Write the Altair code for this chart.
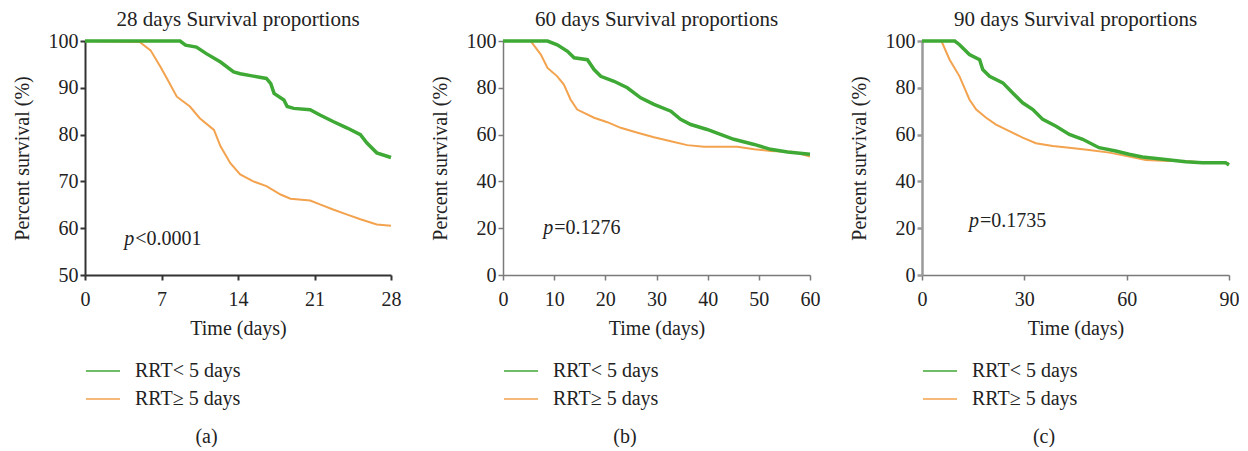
import altair as alt
import pandas as pd

GROUPS = ["RRT< 5 days", "RRT\u2265 5 days"]
GREEN = "#3fa935"
ORANGE = "#f3a24e"
FONT = "Liberation Serif"
FS = 20

# ---- Panel (a): 28 days ----
a_green_t = [0, 8.7, 9.2, 10.2, 11.1, 12.4, 13.6, 14.2, 15.4, 16.6, 17.0, 17.3, 18.2, 18.5, 19.1, 20.6, 21.5, 22.7, 24.0, 25.2, 25.8, 26.7, 28.0]
a_green_v = [100, 100, 99.1, 98.7, 97.3, 95.5, 93.4, 93.0, 92.5, 92.0, 90.9, 88.8, 87.4, 86.0, 85.6, 85.3, 84.2, 82.8, 81.4, 80.0, 78.2, 76.1, 75.1]
a_orange_t = [0, 5.0, 6.0, 6.9, 7.5, 8.4, 9.6, 10.5, 11.8, 12.4, 13.3, 14.2, 15.4, 16.6, 17.9, 18.8, 20.6, 21.5, 22.7, 24.0, 25.2, 26.7, 28.0]
a_orange_v = [100, 99.8, 98.0, 94.5, 92.0, 88.1, 86.0, 83.5, 81.0, 77.5, 73.9, 71.5, 70.0, 69.0, 67.2, 66.3, 65.9, 65.1, 64.0, 62.9, 61.9, 60.8, 60.5]

# ---- Panel (b): 60 days ----
b_green_t = [0, 8.7, 10.6, 12.6, 13.9, 16.5, 17.8, 19.1, 21.7, 24.3, 26.9, 29.5, 32.8, 34.7, 36.7, 39.9, 42.5, 45.1, 49.1, 52.3, 55.6, 60.0]
b_green_v = [100, 100, 98.4, 95.6, 92.8, 92.0, 87.8, 84.9, 82.8, 80.0, 75.7, 72.9, 70.0, 66.5, 64.3, 62.2, 60.1, 58.0, 55.8, 53.7, 52.6, 51.6]
b_orange_t = [0, 5.4, 7.4, 8.7, 10.6, 11.9, 13.2, 14.5, 17.8, 20.4, 23.0, 26.3, 29.5, 32.8, 36.0, 39.3, 45.8, 49.1, 52.3, 56.9, 60.0]
b_orange_v = [100, 100, 94.2, 88.5, 84.9, 81.4, 75.0, 70.7, 67.2, 65.3, 62.9, 60.8, 58.9, 57.2, 55.5, 54.8, 54.8, 53.7, 53.0, 52.6, 50.6]

# ---- Panel (c): 90 days ----
c_green_t = [0, 9.6, 11.0, 13.9, 16.9, 17.8, 19.8, 23.7, 26.6, 29.5, 32.5, 35.4, 39.3, 43.2, 47.1, 51.9, 56.8, 60.7, 64.6, 71.4, 77.3, 82.2, 89.0, 90.0]
c_green_v = [100, 100, 98.4, 94.2, 92.0, 87.8, 84.9, 82.1, 77.8, 73.6, 70.7, 66.5, 63.6, 60.1, 58.0, 54.4, 53.0, 51.6, 50.4, 49.4, 48.4, 48.0, 48.0, 47.0]
c_orange_t = [0, 5.7, 8.1, 11.0, 13.9, 15.9, 18.8, 21.7, 25.6, 29.5, 33.4, 38.3, 43.2, 49.0, 54.9, 59.7, 65.6, 72.4, 76.3, 82.0, 90.0]
c_orange_v = [100, 100, 92.0, 84.9, 75.0, 70.7, 67.2, 64.3, 61.5, 58.7, 56.3, 55.1, 54.4, 53.4, 52.3, 50.9, 49.1, 48.7, 48.7, 48.2, 47.8]

P_TEXT = ["<0.0001", "=0.1276", "=0.1735"]
P_POS = [(4.6, 57.7), (10.0, 20.1), (17.0, 23.1)]
TITLES = ["28 days Survival proportions", "60 days Survival proportions", "90 days Survival proportions"]
CAPTIONS = ["(a)", "(b)", "(c)"]
X_MAX = [28, 60, 90]
X_TICKS = [[0, 7, 14, 21, 28], [0, 10, 20, 30, 40, 50, 60], [0, 30, 60, 90]]
Y_MIN = [50, 0, 0]
Y_TICKS = [[50, 60, 70, 80, 90, 100], [0, 20, 40, 60, 80, 100], [0, 20, 40, 60, 80, 100]]
AXIS_COL = [("#333333", "#333333"), ("#7a7a7a", "#7a7a7a"), ("#7a7a7a", "#9a9a9a")]
AXIS_W = [(2, 2), (1.5, 1.5), (1.5, 2.5)]
WIDTHS = [306, 307, 307]

LBL = dict(labelFont=FONT, labelFontSize=FS, labelColor="#222222", titleFont=FONT,
           titleFontSize=FS, titleFontWeight="normal", titleColor="#222222",
           labelFlush=False)


def make_df(gt, gv, ot, ov):
    rows = [{"t": t, "v": v, "group": GROUPS[0]} for t, v in zip(gt, gv)]
    rows += [{"t": t, "v": v, "group": GROUPS[1]} for t, v in zip(ot, ov)]
    return pd.DataFrame(rows)


def panel(i, df):
    xcol, ycol = AXIS_COL[i]
    xw, yw = AXIS_W[i]
    x = alt.X("t:Q", scale=alt.Scale(domain=[0, X_MAX[i]], nice=False, zero=False),
              axis=alt.Axis(title="Time (days)", values=X_TICKS[i], grid=False,
                            domainColor=xcol, tickColor=xcol, domainWidth=xw, tickWidth=xw,
                            tickSize=5, labelPadding=9, titlePadding=9, **LBL))
    y = alt.Y("v:Q", scale=alt.Scale(domain=[Y_MIN[i], 100], nice=False, zero=False),
              axis=alt.Axis(title="Percent survival (%)", values=Y_TICKS[i], grid=False,
                            domainColor=ycol, tickColor=ycol, domainWidth=yw, tickWidth=yw,
                            tickSize=5, labelPadding=2, titlePadding=16, **LBL))
    color = alt.Color("group:N", scale=alt.Scale(domain=GROUPS, range=[GREEN, ORANGE]),
                      legend=alt.Legend(title=None, orient="none", legendX=0, legendY=312,
                                        direction="vertical", symbolType="stroke",
                                        symbolSize=1156, symbolStrokeWidth=2,
                                        symbolOpacity=0.75, labelFont=FONT, labelFontSize=FS,
                                        labelColor="#222222", labelOffset=14, rowPadding=-7,
                                        padding=0))
    orange = alt.Chart(df).transform_filter(alt.datum.group == GROUPS[1]).mark_line(
        strokeWidth=2).encode(x=x, y=y, color=color)
    green = alt.Chart(df).transform_filter(alt.datum.group == GROUPS[0]).mark_line(
        strokeWidth=3.5).encode(x=x, y=y, color=color)
    px, py = P_POS[i]
    pdf = pd.DataFrame({"t": [px], "v": [py], "s": [P_TEXT[i]]})
    ptxt_p = alt.Chart(pdf).mark_text(text="p", font=FONT, fontSize=FS, fontStyle="italic",
                                      align="right", baseline="middle", color="#222222", dx=-1).encode(
        x=alt.X("t:Q"), y=alt.Y("v:Q"))
    ptxt_r = alt.Chart(pdf).mark_text(font=FONT, fontSize=FS, align="left", baseline="middle",
                                      color="#222222").encode(
        x=alt.X("t:Q"), y=alt.Y("v:Q"), text="s:N")
    layer = alt.layer(orange, green, ptxt_p, ptxt_r).properties(
        width=WIDTHS[i], height=234,
        title=alt.TitleParams(TITLES[i], font=FONT, fontSize=FS + 1, fontWeight="normal",
                              color="#222222", offset=1, frame="group"))
    return alt.vconcat(layer).properties(
        title=alt.TitleParams(CAPTIONS[i], orient="bottom", font=FONT, fontSize=FS,
                              fontWeight="normal", color="#222222", offset=18, anchor="middle"))


dfs = [
    make_df(a_green_t, a_green_v, a_orange_t, a_orange_v),
    make_df(b_green_t, b_green_v, b_orange_t, b_orange_v),
    make_df(c_green_t, c_green_v, c_orange_t, c_orange_v),
]

chart = alt.hconcat(*[panel(i, d) for i, d in enumerate(dfs)], spacing=29).resolve_scale(
    color="independent").resolve_legend(color="independent").properties(
    padding={"left": 4, "top": 1, "right": 0, "bottom": 0}).configure_view(stroke=None)

chart.save("out.html", embed_options={"renderer": "svg", "actions": False})
